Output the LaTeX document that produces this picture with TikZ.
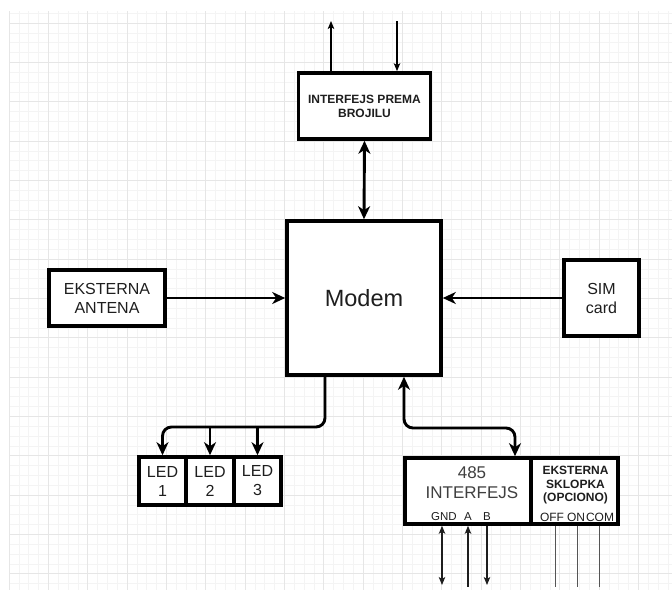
\documentclass[tikz,border=0pt]{standalone}
\usepackage{fontspec}
\setmainfont{Liberation Sans}
\usetikzlibrary{arrows.meta}
\definecolor{gridmajor}{HTML}{E6E6E6}
\definecolor{gridminor}{HTML}{F4F4F4}
\definecolor{ink}{HTML}{1E1E1E}
\definecolor{pinline}{HTML}{555555}
\begin{document}
\begin{tikzpicture}[x=1pt,y=-1pt,
  box/.style={draw=black, line width=3.6pt, fill=white, inner sep=0pt, text=ink},
  conn/.style={draw=black, line width=2.9pt},
  bigtip/.tip={Stealth[length=13pt,width=12pt,inset=4pt]},
  smalltip/.tip={Stealth[length=8pt,width=6.5pt,inset=2pt]},
  thinarrow/.style={draw=black, line width=1.3pt},
  pinarrow/.style={draw=ink, line width=1.2pt},
  pinline/.style={draw=pinline, line width=1pt},
  lbl/.style={inner sep=0pt, text=ink, align=center},
  f12/.style={font=\fontsize{12}{13.5}\selectfont},
  f16/.style={font=\fontsize{16}{19}\selectfont},
]
\useasboundingbox (0,0) rectangle (672,590);
\fill[white] (0,0) rectangle (672,590);
% grid
\foreach \gx in {9,18.8333,...,672} \draw[gridminor, line width=0.6pt] (\gx,11) -- (\gx,590);
\foreach \gy in {13.1667,23,...,590} \draw[gridminor, line width=0.6pt] (9,\gy) -- (672,\gy);
\foreach \gx in {9,48.3333,...,672} \draw[gridmajor, line width=0.8pt] (\gx,11) -- (\gx,590);
\foreach \gy in {23,62.3333,...,590} \draw[gridmajor, line width=0.8pt] (9,\gy) -- (672,\gy);

% boxes
\node[box, minimum width=132pt, minimum height=66pt, align=center,
      font=\bfseries\fontsize{12}{14}\selectfont] (intf) at (364.5,106) {INTERFEJS PREMA\\BROJILU};
\node[box, minimum width=154pt, minimum height=154pt, font=\fontsize{23.5}{27}\selectfont] (modem) at (364,298) {Modem};
\node[box, minimum width=116pt, minimum height=56pt, f16, align=center] (ant) at (107,298) {EKSTERNA\\ANTENA};
\node[box, minimum width=75pt, minimum height=76pt, f16, align=center] (sim) at (601.5,298) {SIM\\card};

\node[box, minimum width=47pt, minimum height=48pt, f16, align=center] (led1) at (162.5,481) {LED\\1};
\node[box, minimum width=48pt, minimum height=48pt, f16, align=center] (led2) at (210,481) {LED\\2};
\node[box, minimum width=47pt, minimum height=48pt, f16, align=center] (led3) at (257.5,481) {LED\\3};

\node[box, minimum width=126pt, minimum height=66pt] (rs485) at (468,491) {};
\node[box, minimum width=87pt, minimum height=66pt] (sw) at (574.5,491) {};

% texts inside the bottom boxes
\node[lbl, font=\fontsize{17}{19.5}\selectfont, text=ink!85] (t485) at (472,482.5) {485\\INTERFEJS};
\node[lbl, font=\fontsize{11.5}{13}\selectfont] (gndl) at (444,517) {GND};
\node[lbl, font=\fontsize{11.5}{13}\selectfont] (al) at (468,517) {A};
\node[lbl, font=\fontsize{11.5}{13}\selectfont] (bl) at (487,517) {B};
\node[lbl, font=\bfseries\fontsize{12}{13.5}\selectfont] (swt) at (575.5,485.5) {EKSTERNA\\SKLOPKA\\(OPCIONO)};
\node[lbl, f12] (offl) at (552,517) {OFF};
\node[lbl, f12] (onl) at (576,517) {ON};
\node[lbl, f12] (coml) at (600,517) {COM};

% helper coordinates
\coordinate (top1) at (331,21);
\coordinate (top2) at (397,21);
\coordinate (ledsplit) at (325,427);
\coordinate (bus) at (404,428);
\coordinate (busend) at (515,428);
\coordinate (gndend) at (442,585);
\coordinate (aend) at (468,587);
\coordinate (bend) at (487,585);
\coordinate (offend) at (555,587);
\coordinate (onend) at (577,587);
\coordinate (comend) at (599,587);

% connectors
\draw[thinarrow, -{smalltip}] (intf.north -| top1) -- (top1);
\draw[thinarrow, -{smalltip}] (top2) -- (top2 |- intf.north);
\draw[conn, {bigtip}-{bigtip}] (intf.south) -- (modem.north);
\draw[conn, -{bigtip}] (ant) -- (modem);
\draw[conn, -{bigtip}] (sim) -- (modem);
\draw[conn, -{bigtip}, rounded corners=9pt] (modem.south -| ledsplit) -- (ledsplit) -- (ledsplit -| led1.north) -- (led1.north);
\draw[conn, -{bigtip}] (ledsplit -| led2.north) -- (led2.north);
\draw[conn, -{bigtip}] (ledsplit -| led3.north) -- (led3.north);
\draw[conn, {bigtip}-{bigtip}, rounded corners=9pt] (modem.south -| bus) -- (bus) -- (busend) -- (busend |- rs485.north);

% pins
\draw[pinarrow, {smalltip}-{smalltip}] (gndend |- rs485.south) -- (gndend);
\draw[pinarrow, {smalltip}-] (aend |- rs485.south) -- (aend);
\draw[pinarrow, -{smalltip}] (bend |- rs485.south) -- (bend);
\draw[pinline] (offend |- sw.south) -- (offend);
\draw[pinline] (onend |- sw.south) -- (onend);
\draw[pinline] (comend |- sw.south) -- (comend);
\end{tikzpicture}
\end{document}
